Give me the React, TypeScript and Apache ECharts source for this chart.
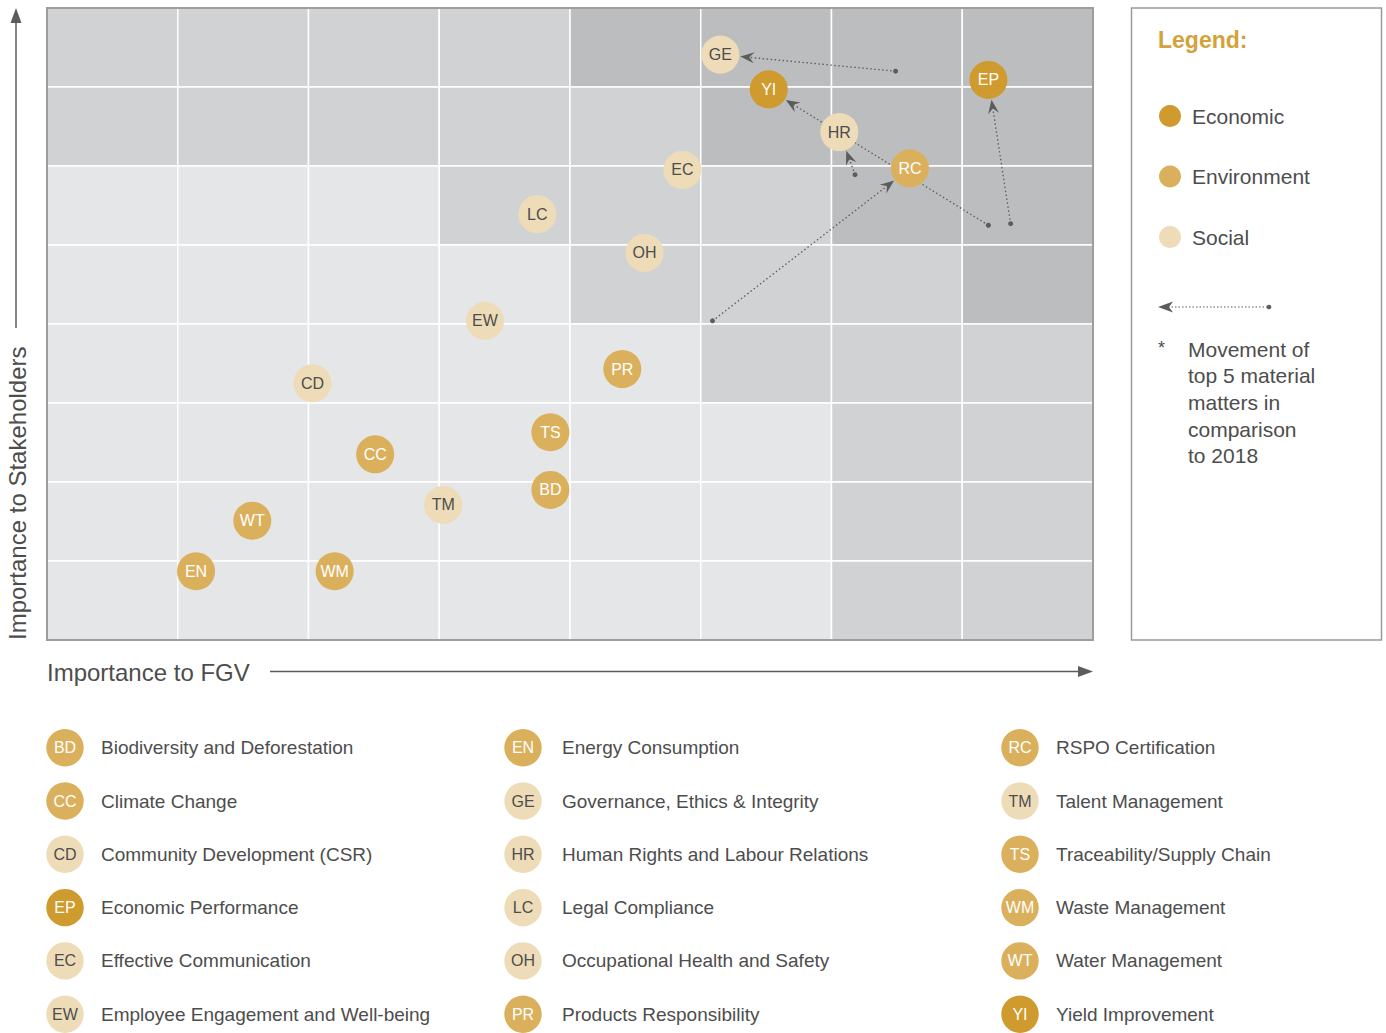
import React, { useEffect, useRef } from "react";
import * as echarts from "echarts";

// ---------- Data ----------
const codes = ["BD", "CC", "CD", "EP", "EC", "EW", "EN", "GE", "HR", "LC", "OH", "PR", "RC", "TM", "TS", "WM", "WT", "YI"];
const names = [
  "Biodiversity and Deforestation",
  "Climate Change",
  "Community Development (CSR)",
  "Economic Performance",
  "Effective Communication",
  "Employee Engagement and Well-being",
  "Energy Consumption",
  "Governance, Ethics & Integrity",
  "Human Rights and Labour Relations",
  "Legal Compliance",
  "Occupational Health and Safety",
  "Products Responsibility",
  "RSPO Certification",
  "Talent Management",
  "Traceability/Supply Chain",
  "Waste Management",
  "Water Management",
  "Yield Improvement",
];
const groups = [
  "Environment", "Environment", "Social", "Economic", "Social", "Social",
  "Environment", "Social", "Social", "Social", "Social", "Environment",
  "Environment", "Social", "Environment", "Environment", "Environment", "Economic",
];
// Importance to FGV (x) and to Stakeholders (y), 0..8 scale
const fgv = [3.85, 2.51, 2.03, 7.2, 4.86, 3.35, 1.14, 5.15, 6.06, 3.75, 4.57, 4.4, 6.6, 3.03, 3.85, 2.2, 1.57, 5.52];
const stakeholders = [1.9, 2.35, 3.25, 7.09, 5.95, 4.04, 0.87, 7.41, 6.43, 5.39, 4.9, 3.43, 5.97, 1.71, 2.63, 0.87, 1.51, 6.97];

// Movement compared to 2018 (previous positions)
const moveCodes = ["GE", "YI", "HR", "RC", "EP"];
const prevFgv = [6.49, 7.2, 6.18, 5.09, 7.37];
const prevStakeholders = [7.2, 5.25, 5.89, 4.04, 5.27];

// Background shading levels, top row first (0 light, 1 medium, 2 dark)
const shadeRows = [
  [1, 1, 1, 1, 2, 2, 2, 2],
  [1, 1, 1, 1, 1, 2, 2, 2],
  [0, 0, 0, 1, 1, 1, 2, 2],
  [0, 0, 0, 0, 1, 1, 1, 2],
  [0, 0, 0, 0, 0, 1, 1, 1],
  [0, 0, 0, 0, 0, 0, 1, 1],
  [0, 0, 0, 0, 0, 0, 1, 1],
  [0, 0, 0, 0, 0, 0, 1, 1],
];

const groupNames = ["Economic", "Environment", "Social"];
const movementNote = ["Movement of", "top 5 material", "matters in", "comparison", "to 2018"];
const xAxisTitle = "Importance to FGV";
const yAxisTitle = "Importance to Stakeholders";
const legendTitle = "Legend:";

// ---------- Styles ----------
const FONT = "'Liberation Sans', Arial, Helvetica, sans-serif";
const groupColors: Record<string, string> = { Economic: "#cf9a2e", Environment: "#dbb05c", Social: "#eedcb8" };
const groupText: Record<string, string> = { Economic: "#ffffff", Environment: "#ffffff", Social: "#4d4d4d" };
const shadeColors = ["#e5e6e7", "#d1d2d4", "#bcbdbf"];
const TEXT = "#4d4d4d";
const ARROW = "#5c5c5c";
const BUBBLE = 38;

export default function App() {
  const ref = useRef<HTMLDivElement>(null);

  useEffect(() => {
    if (!ref.current) return;
    document.body.style.margin = "0";
    const chart = echarts.init(ref.current, undefined, { renderer: "svg" });

    const cellData: number[][] = [];
    shadeRows.forEach((row, r) => row.forEach((lvl, c) => cellData.push([c, 7 - r, lvl])));

    const moveData = moveCodes.map((code, i) => {
      const k = codes.indexOf(code);
      return [prevFgv[i], prevStakeholders[i], fgv[k], stakeholders[k]];
    });

    const scatterSeries = groupNames.map((g) => ({
      name: g,
      type: "scatter",
      z: 5,
      symbol: "circle",
      symbolSize: BUBBLE,
      itemStyle: { color: groupColors[g], opacity: 1 },
      label: {
        show: true,
        position: "inside",
        formatter: (p: any) => p.value[2],
        color: groupText[g],
        fontSize: 16,
        fontFamily: FONT,
      },
      emphasis: { disabled: true },
      data: codes
        .map((c, i) => ({ c, i }))
        .filter((d) => groups[d.i] === g)
        .map((d) => [fgv[d.i], stakeholders[d.i], d.c]),
    }));

    const graphics: any[] = [];
    // Y axis arrow + title
    graphics.push({ type: "line", shape: { x1: 16, y1: 328, x2: 16, y2: 20 }, style: { stroke: ARROW, lineWidth: 1.5 } });
    graphics.push({ type: "polygon", shape: { points: [[16, 8], [10.5, 23], [21.5, 23]] }, style: { fill: ARROW } });
    graphics.push({
      type: "text", x: 17, y: 640, rotation: Math.PI / 2,
      style: { text: yAxisTitle, fill: TEXT, font: `24px ${FONT}`, align: "left", verticalAlign: "middle" },
    });
    // X axis title + arrow
    graphics.push({
      type: "text", x: 47, y: 672,
      style: { text: xAxisTitle, fill: TEXT, font: `24px ${FONT}`, align: "left", verticalAlign: "middle" },
    });
    graphics.push({ type: "line", shape: { x1: 270, y1: 671.5, x2: 1080, y2: 671.5 }, style: { stroke: ARROW, lineWidth: 1.5 } });
    graphics.push({ type: "polygon", shape: { points: [[1093, 671.5], [1078, 666], [1078, 677]] }, style: { fill: ARROW } });

    // Legend box
    graphics.push({ type: "rect", shape: { x: 1131.5, y: 8, width: 250, height: 632 }, style: { fill: "#ffffff", stroke: "#9a9a9a", lineWidth: 1.5 } });
    graphics.push({
      type: "text", x: 1158, y: 40,
      style: { text: legendTitle, fill: "#d4a23a", font: `bold 23px ${FONT}`, align: "left", verticalAlign: "middle" },
    });
    groupNames.forEach((g, i) => {
      const y = 116 + i * 60.5;
      graphics.push({ type: "circle", shape: { cx: 1170, cy: y, r: 11 }, style: { fill: groupColors[g] } });
      graphics.push({
        type: "text", x: 1192, y: y,
        style: { text: g, fill: TEXT, font: `21px ${FONT}`, align: "left", verticalAlign: "middle" },
      });
    });
    // Legend arrow sample
    graphics.push({ type: "line", shape: { x1: 1168, y1: 307, x2: 1269, y2: 307 }, style: { stroke: ARROW, lineWidth: 1.2, lineDash: [1.5, 2] } });
    graphics.push({ type: "polygon", shape: { points: [[1158, 307], [1173, 301.5], [1169, 307], [1173, 312.5]] }, style: { fill: ARROW } });
    graphics.push({ type: "circle", shape: { cx: 1269, cy: 307, r: 2.3 }, style: { fill: ARROW } });
    graphics.push({
      type: "text", x: 1158, y: 348,
      style: { text: "*", fill: TEXT, font: `18px ${FONT}`, align: "left", verticalAlign: "middle" },
    });
    movementNote.forEach((line, i) => {
      graphics.push({
        type: "text", x: 1188, y: 349 + i * 26.7,
        style: { text: line, fill: TEXT, font: `21px ${FONT}`, align: "left", verticalAlign: "middle" },
      });
    });

    // Bottom key
    const colCircle = [65, 523, 1020];
    const colText = [101, 562, 1056];
    codes.forEach((code, i) => {
      const col = Math.floor(i / 6);
      const row = i % 6;
      const y = 747.7 + row * 53.3;
      const g = groups[i];
      graphics.push({ type: "circle", shape: { cx: colCircle[col], cy: y, r: 18.7 }, style: { fill: groupColors[g] } });
      graphics.push({
        type: "text", x: colCircle[col], y: y,
        style: { text: code, fill: groupText[g], font: `16px ${FONT}`, align: "center", verticalAlign: "middle" },
      });
      graphics.push({
        type: "text", x: colText[col], y: y,
        style: { text: names[i], fill: TEXT, font: `19px ${FONT}`, align: "left", verticalAlign: "middle" },
      });
    });

    const option: any = {
      animation: false,
      backgroundColor: "#ffffff",
      grid: { left: 47, top: 8, width: 1046, height: 632, containLabel: false },
      xAxis: { type: "value", min: 0, max: 8, interval: 1, show: false },
      yAxis: { type: "value", min: 0, max: 8, interval: 1, show: false },
      tooltip: { show: false },
      graphic: graphics,
      series: [
        {
          type: "custom",
          name: "cells",
          z: 1,
          silent: true,
          encode: { x: 0, y: 1 },
          data: cellData,
          renderItem: (params: any, api: any) => {
            const c = api.value(0);
            const r = api.value(1);
            const lvl = api.value(2);
            const p0 = api.coord([c, r + 1]);
            const p1 = api.coord([c + 1, r]);
            return {
              type: "rect",
              shape: { x: p0[0], y: p0[1], width: p1[0] - p0[0], height: p1[1] - p0[1] },
              style: { fill: shadeColors[lvl], stroke: "#ffffff", lineWidth: 1.5 },
            };
          },
        },
        {
          type: "custom",
          name: "frame",
          z: 2,
          silent: true,
          encode: { x: 0, y: 1 },
          data: [[0, 0]],
          renderItem: (params: any, api: any) => {
            const p0 = api.coord([0, 8]);
            const p1 = api.coord([8, 0]);
            return {
              type: "rect",
              shape: { x: p0[0], y: p0[1], width: p1[0] - p0[0], height: p1[1] - p0[1] },
              style: { fill: "none", stroke: "#9d9d9d", lineWidth: 2 },
            };
          },
        },
        {
          type: "custom",
          name: "movement",
          z: 3,
          silent: true,
          clip: false,
          encode: { x: [0, 2], y: [1, 3] },
          data: moveData,
          renderItem: (params: any, api: any) => {
            const a = api.coord([api.value(0), api.value(1)]);
            const b = api.coord([api.value(2), api.value(3)]);
            const dx = b[0] - a[0];
            const dy = b[1] - a[1];
            const len = Math.hypot(dx, dy);
            const ux = dx / len;
            const uy = dy / len;
            const px = -uy;
            const py = ux;
            const R = BUBBLE / 2 + 1;
            const tip = [b[0] - ux * R, b[1] - uy * R];
            const L = 14;
            const W = 5.5;
            const N = 9;
            const back = [tip[0] - ux * L, tip[1] - uy * L];
            const notch = [tip[0] - ux * N, tip[1] - uy * N];
            return {
              type: "group",
              children: [
                {
                  type: "line",
                  shape: { x1: a[0], y1: a[1], x2: notch[0], y2: notch[1] },
                  style: { stroke: ARROW, lineWidth: 1.3, lineDash: [1.5, 2.5] },
                },
                {
                  type: "polygon",
                  shape: {
                    points: [
                      tip,
                      [back[0] + px * W, back[1] + py * W],
                      notch,
                      [back[0] - px * W, back[1] - py * W],
                    ],
                  },
                  style: { fill: ARROW },
                },
                { type: "circle", shape: { cx: a[0], cy: a[1], r: 2.5 }, style: { fill: ARROW } },
              ],
            };
          },
        },
        ...scatterSeries,
      ],
    };

    chart.setOption(option);
    return () => chart.dispose();
  }, []);

  return <div ref={ref} style={{ width: 1386, height: 1033, background: "#ffffff" }} />;
}
